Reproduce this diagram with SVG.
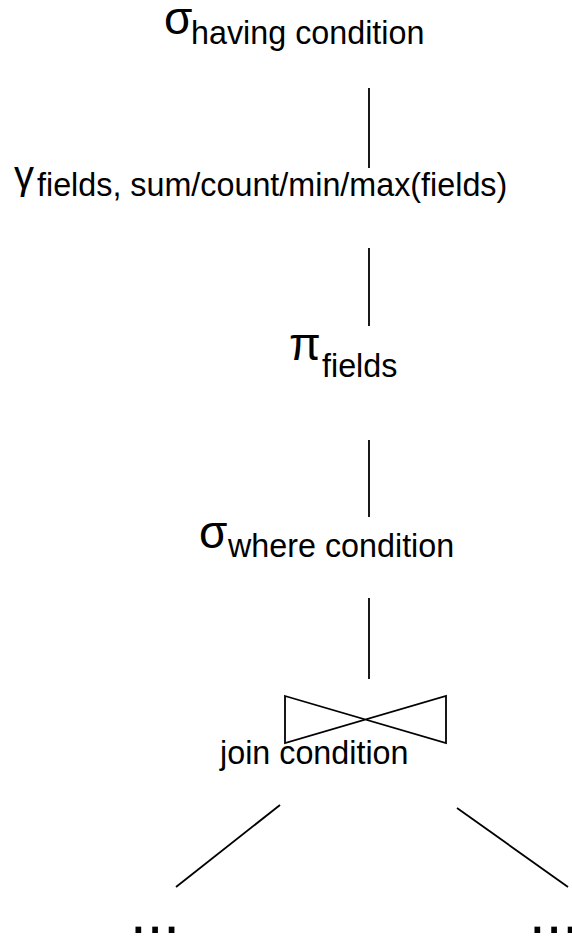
<svg xmlns="http://www.w3.org/2000/svg" width="572" height="936" viewBox="0 0 572 936">
<style>
text{font-family:"Liberation Sans",Arial,sans-serif;fill:#000}
.op{font-size:46px}
.sub{font-size:32.3px}
.dots{font-size:60px}
.edge{stroke:#000;stroke-width:1.8;fill:none}
</style>
<rect width="572" height="936" fill="#fff"/>
<g id="connectors">
<line class="edge" x1="369" y1="88" x2="369" y2="168"/>
<line class="edge" x1="369" y1="248" x2="369" y2="326"/>
<line class="edge" x1="369" y1="440" x2="369" y2="517"/>
<line class="edge" x1="369" y1="598" x2="369" y2="679"/>
<line class="edge" x1="280" y1="805" x2="176" y2="887"/>
<line class="edge" x1="457" y1="808" x2="568" y2="887"/>
</g>
<g id="having">
<text class="op" x="164" y="34">σ</text>
<text class="sub" x="191" y="44">having condition</text>
</g>
<g id="groupby">
<text class="op" x="14" y="189" style="font-size:40px">γ</text>
<text class="sub" x="37" y="196">fields, sum/count/min/max(fields)</text>
</g>
<g id="project">
<text class="op" x="289" y="360">π</text>
<text class="sub" x="322" y="377">fields</text>
</g>
<g id="where">
<text class="op" x="199" y="548">σ</text>
<text class="sub" x="228" y="557">where condition</text>
</g>
<g id="join">
<polygon class="edge" points="285,696 446,743 446,696 285,743"/>
<text class="sub" x="220" y="764">join condition</text>
</g>
<g id="left-child">
<text class="dots" x="130" y="933">...</text>
</g>
<g id="right-child">
<text class="dots" x="529" y="933">...</text>
</g>
</svg>
